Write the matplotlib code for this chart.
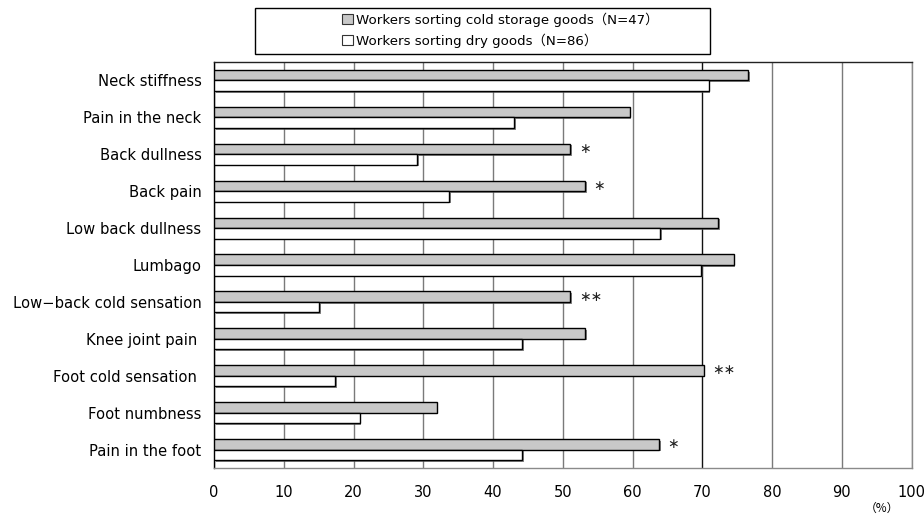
import matplotlib
matplotlib.use("Agg")
import matplotlib.pyplot as plt
import matplotlib.patheffects as pe
from matplotlib.patches import Rectangle, Patch
import numpy as np

categories = ["Neck stiffness", "Pain in the neck", "Back dullness", "Back pain",
              "Low back dullness", "Lumbago", "Low\u2212back cold sensation",
              "Knee joint pain ", "Foot cold sensation ", "Foot numbness",
              "Pain in the foot"]
cold_storage = [76.6, 59.6, 51.1, 53.2, 72.3, 74.5, 51.1, 53.2, 70.2, 31.9, 63.8]
dry_goods = [70.9, 43.0, 29.1, 33.7, 64.0, 69.8, 15.1, 44.2, 17.4, 20.9, 44.2]
significance = ["", "", "\u2217", "\u2217", "", "", "\u2217\u2217", "", "\u2217\u2217", "", "\u2217"]
series_labels = ["Workers sorting cold storage goods\uff08N=47\uff09",
                 "Workers sorting dry goods\uff08N=86\uff09"]
xticks = [0, 10, 20, 30, 40, 50, 60, 70, 80, 90, 100]

fig = plt.figure(figsize=(9.24, 5.17), dpi=100)
ax = fig.add_axes([214 / 924, 1 - 468 / 517, (911.5 - 214) / 924, (468 - 62) / 517])

y = np.arange(len(categories))
h = 0.285
shadow = [pe.SimplePatchShadow(offset=(1.2, -1.2), shadow_rgbFace="#555555", alpha=0.7), pe.Normal()]
bars_c = ax.barh(y - h / 2, cold_storage, height=h, color="#c8c8c8", edgecolor="black",
                 linewidth=1.0, zorder=3)
bars_d = ax.barh(y + h / 2, dry_goods, height=h, color="white", edgecolor="black",
                 linewidth=1.0, zorder=3)
for b in list(bars_c) + list(bars_d):
    b.set_path_effects(shadow)

for yi, v, s in zip(y, cold_storage, significance):
    if s:
        ax.annotate(s, xy=(v, yi - h / 2), xytext=(6, 0), textcoords="offset points",
                    ha="left", va="center", fontsize=10, color="#222222",
                    fontfamily="DejaVu Sans")

ax.set_xlim(0, 100)
ax.set_ylim(len(categories) - 0.5, -0.5)
ax.set_xticks(xticks)
ax.set_xticklabels([str(t) for t in xticks], fontsize=10.5)
ax.set_yticks(y)
ax.set_yticklabels(categories, fontsize=10.6)
ax.tick_params(axis="both", length=0)
ax.tick_params(axis="x", pad=12)
ax.tick_params(axis="y", pad=9)

ax.grid(axis="x", color="#7a7a7a", linewidth=1.0, zorder=1)
ax.grid(axis="y", visible=False)
gl = ax.get_xgridlines()
if len(gl) > 7:
    gl[7].set_color("#111111")
ax.set_axisbelow(True)

ax.spines["left"].set_color("black")
ax.spines["top"].set_color("#222222")
ax.spines["right"].set_color("#8a8a8a")
ax.spines["bottom"].set_color("#8a8a8a")
for sp in ax.spines.values():
    sp.set_linewidth(1.0)

# legend
frame = Rectangle((255 / 924, 1 - 54 / 517), (710 - 255) / 924, (54 - 8) / 517,
                  transform=fig.transFigure, facecolor="white", edgecolor="black",
                  linewidth=1.0)
fig.add_artist(frame)
handles = [Patch(facecolor="#c8c8c8", edgecolor="#333333", linewidth=0.8),
           Patch(facecolor="white", edgecolor="#333333", linewidth=0.8)]
leg = fig.legend(handles, series_labels, loc="upper left",
                 bbox_to_anchor=(333 / 924, 1 - 3 / 517), frameon=False,
                 handlelength=0.8, handleheight=0.8, handletextpad=0.25,
                 labelspacing=0.5, borderpad=0.2,
                 prop={"family": ["DejaVu Sans", "Noto Sans CJK JP"], "size": 9.6})

fig.text(882 / 924, 1 - 508 / 517, "\uff08%\uff09", ha="center", va="center",
         fontsize=8.5, family=["Noto Sans CJK JP", "DejaVu Sans"])

fig.savefig("out.png", dpi=100)
